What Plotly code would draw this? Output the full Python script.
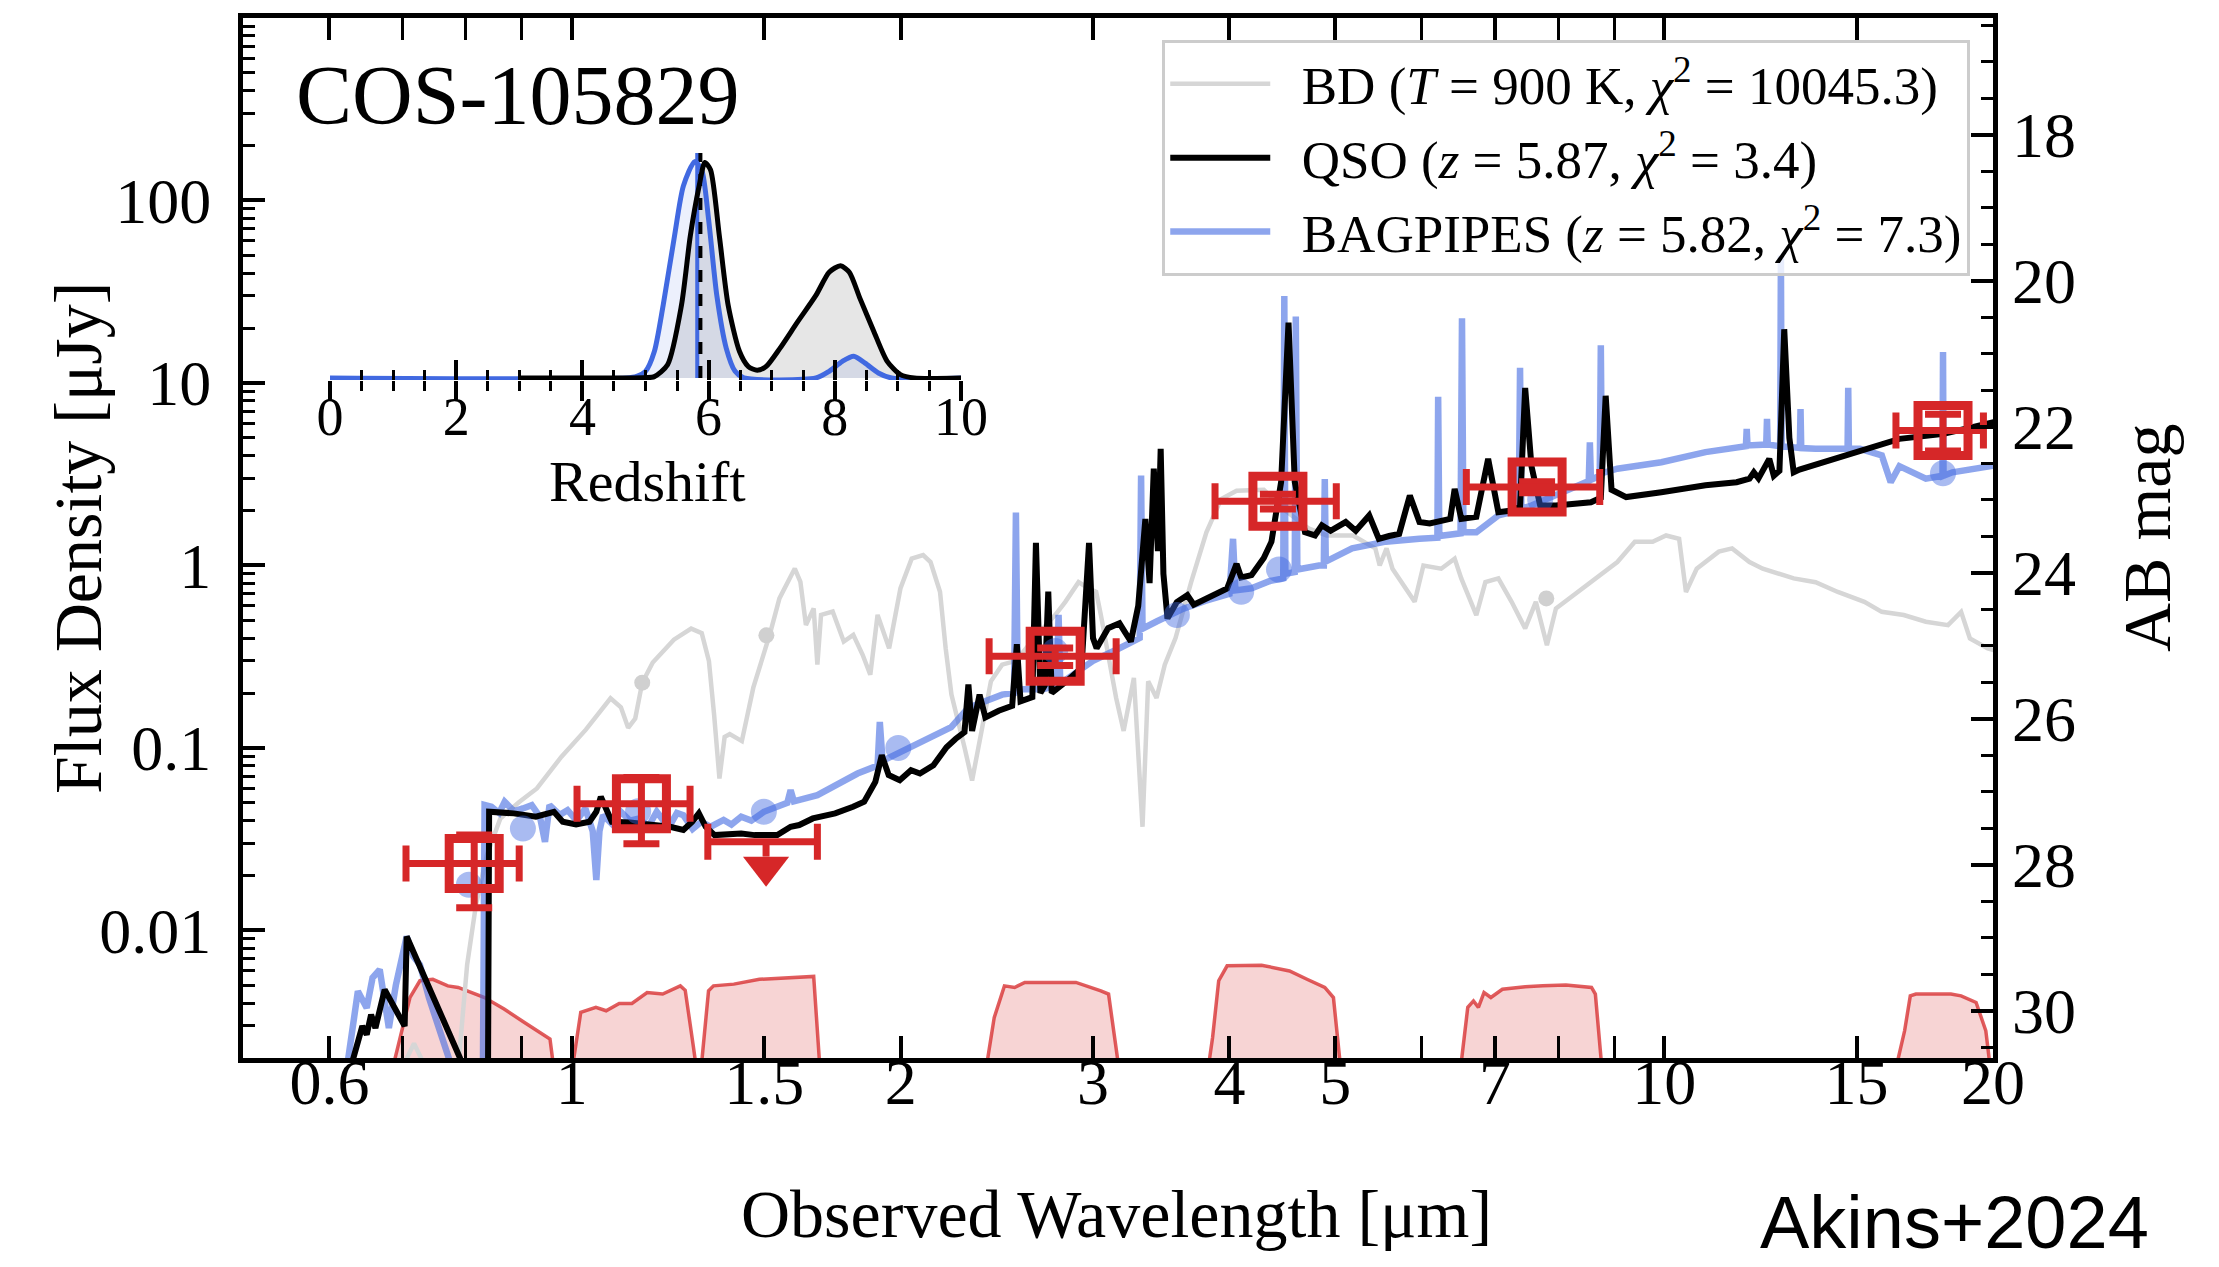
import math
import plotly.graph_objects as go

# ---------------- data ----------------
bd_wave = [0.690, 0.717, 0.745, 0.785, 0.802, 0.817, 0.836, 0.860, 0.895, 0.929, 0.978, 1.030, 1.085, 1.109,
           1.126, 1.143, 1.160, 1.186, 1.240, 1.286, 1.315, 1.335, 1.350, 1.365, 1.380, 1.395, 1.431, 1.466,
           1.519, 1.549, 1.600, 1.619, 1.638, 1.665, 1.678, 1.691, 1.733, 1.774, 1.810, 1.846, 1.876, 1.905,
           1.952, 1.999, 2.047, 2.097, 2.130, 2.173, 2.199, 2.226, 2.288, 2.325, 2.372, 2.419, 2.477, 2.550,
           2.650, 2.770, 2.830, 2.910, 2.970, 3.020, 3.050, 3.150, 3.200, 3.270, 3.330, 3.370, 3.430, 3.490,
           3.570, 3.690, 3.810, 3.930, 4.060, 4.300, 4.500, 4.730, 4.910, 5.190, 5.440, 5.490, 5.570, 5.640,
           5.910, 6.020, 6.250, 6.430, 6.520, 6.730, 6.860, 7.050, 7.250, 7.460, 7.630, 7.810, 7.960, 8.260,
           8.570, 9.060, 9.400, 9.760, 10.04, 10.32, 10.47, 10.71, 11.22, 11.54, 11.97, 12.31, 13.14, 13.76,
           14.42, 15.25, 15.82, 16.57, 17.36, 18.19, 18.70, 19.05, 19.78, 20.50]
bd_flux = [0.0015, 0.0024, 0.0015, 0.0015, 0.0065, 0.0138, 0.0259, 0.041, 0.0506, 0.060, 0.0893, 0.126, 0.187,
           0.167, 0.129, 0.145, 0.228, 0.294, 0.392, 0.451, 0.426, 0.300, 0.150, 0.068, 0.115, 0.119, 0.109,
           0.214, 0.426, 0.660, 0.962, 0.813, 0.472, 0.582, 0.286, 0.536, 0.559, 0.383, 0.417, 0.324, 0.252,
           0.536, 0.352, 0.748, 1.09, 1.14, 1.045, 0.718, 0.352, 0.196, 0.101, 0.0663, 0.124, 0.232, 0.286,
           0.300, 0.400, 0.535, 0.632, 0.810, 0.750, 0.718, 0.536, 0.188, 0.124, 0.242, 0.037, 0.232, 0.188,
           0.286, 0.400, 0.813, 1.52, 2.31, 2.57, 2.60, 2.00, 1.59, 1.46, 1.46, 1.24, 1.00, 1.24, 0.96, 0.632,
           1.00, 0.96, 1.09, 0.85, 0.535, 0.81, 0.85, 0.632, 0.452, 0.632, 0.366, 0.581, 0.687, 0.81, 1.045,
           1.35, 1.35, 1.46, 1.40, 0.716, 0.96, 1.19, 1.24, 1.045, 0.96, 0.85, 0.81, 0.716, 0.632, 0.557,
           0.535, 0.492, 0.471, 0.557, 0.398, 0.351, 0.330]
bd_phot_wave = [1.16, 1.507, 7.8]
bd_phot_flux = [0.228, 0.414, 0.66]

qso_wave = [0.620, 0.631, 0.643, 0.649, 0.655, 0.661, 0.674, 0.703, 0.706, 0.790, 0.800, 0.838, 0.840, 0.885,
            0.927, 0.963, 0.981, 1.009, 1.038, 1.053, 1.063, 1.073, 1.088, 1.130, 1.196, 1.230, 1.265, 1.289,
            1.307, 1.326, 1.351, 1.429, 1.470, 1.542, 1.586, 1.615, 1.662, 1.742, 1.809, 1.852, 1.896, 1.922,
            1.950, 1.996, 2.044, 2.083, 2.143, 2.203, 2.245, 2.288, 2.307, 2.325, 2.362, 2.391, 2.459, 2.530,
            2.555, 2.575, 2.640, 2.660, 2.685, 2.710, 2.730, 2.750, 2.837, 2.928, 2.975, 3.000, 3.023, 3.097,
            3.172, 3.249, 3.300, 3.350, 3.380, 3.410, 3.440, 3.460, 3.480, 3.510, 3.580, 3.660, 3.710, 3.980,
            4.060, 4.100, 4.190, 4.300, 4.370, 4.460, 4.530, 4.590, 4.690, 4.790, 4.860, 4.950, 5.110, 5.220,
            5.370, 5.480, 5.600, 5.720, 5.850, 5.970, 6.100, 6.250, 6.370, 6.430, 6.520, 6.730, 6.900, 7.050,
            7.250, 7.380, 7.460, 7.560, 7.700, 7.960, 8.570, 8.750, 8.840, 8.950, 9.060, 9.230, 9.940, 10.91,
            11.65, 11.97, 12.08, 12.20, 12.48, 12.60, 12.75, 12.88, 13.02, 13.14, 13.30, 16.42, 18.02, 20.50]
qso_flux = [0.0015, 0.0020, 0.00299, 0.00269, 0.00346, 0.00292, 0.00474, 0.00299, 0.00927, 0.0020, 0.0015,
            0.0015, 0.0447, 0.0438, 0.0420, 0.0447, 0.0394, 0.0381, 0.0394, 0.0447, 0.0540, 0.0466, 0.0394,
            0.0391, 0.0378, 0.0370, 0.0355, 0.0394, 0.0438, 0.0370, 0.0333, 0.0340, 0.0333, 0.0333, 0.0370,
            0.0378, 0.0411, 0.0438, 0.0476, 0.0507, 0.0652, 0.0912, 0.0710, 0.0666, 0.0755, 0.0724, 0.0804,
            0.101, 0.112, 0.122, 0.223, 0.124, 0.196, 0.147, 0.160, 0.170, 0.370, 0.180, 0.190, 1.33, 0.200,
            0.220, 0.720, 0.200, 0.232, 0.274, 1.33, 0.400, 0.352, 0.453, 0.482, 0.383, 0.600, 1.80, 0.800,
            3.39, 1.20, 4.36, 0.900, 0.513, 0.630, 0.687, 0.610, 0.748, 1.02, 0.860, 0.885, 1.10, 1.35, 2.87,
            21.4, 2.87, 1.52, 1.46, 1.66, 1.55, 1.73, 1.55, 1.88, 1.40, 1.45, 1.49, 2.42, 1.73, 1.70, 1.75,
            1.80, 2.63, 1.80, 1.85, 3.84, 1.96, 2.00, 2.10, 9.40, 3.50, 2.13, 2.13, 2.22, 2.35, 8.51, 2.60,
            2.52, 2.37, 2.52, 2.75, 2.86, 2.99, 3.24, 3.00, 3.84, 3.10, 3.30, 19.7, 5.0, 3.24, 3.35, 4.94,
            5.26, 6.30]

bp_wave = [0.620, 0.637, 0.649, 0.657, 0.667, 0.680, 0.690, 0.706, 0.716, 0.726, 0.740, 0.761, 0.776, 0.829,
           0.832, 0.844, 0.858, 0.868, 0.885, 0.902, 0.919, 0.935, 0.945, 0.954, 0.975, 0.991, 1.010, 1.029,
           1.045, 1.053, 1.060, 1.068, 1.090, 1.109, 1.130, 1.152, 1.175, 1.196, 1.213, 1.230, 1.248, 1.265,
           1.290, 1.314, 1.340, 1.377, 1.400, 1.429, 1.460, 1.499, 1.540, 1.575, 1.586, 1.597, 1.678, 1.742,
           1.826, 1.905, 1.914, 1.925, 2.025, 2.143, 2.225, 2.307, 2.400, 2.477, 2.540, 2.550, 2.560, 2.700,
           2.780, 2.790, 2.800, 2.900, 3.000, 3.172, 3.310, 3.320, 3.330, 3.430, 3.630, 3.800, 4.000, 4.030,
           4.050, 4.190, 4.350, 4.480, 4.490, 4.500, 4.590, 4.600, 4.615, 4.830, 4.880, 4.890, 4.900, 5.180,
           5.560, 5.970, 6.200, 6.210, 6.225, 6.510, 6.530, 6.550, 6.730, 7.050, 7.360, 7.380, 7.400, 7.560,
           8.260, 8.530, 8.550, 8.570, 8.730, 8.750, 8.770, 9.060, 9.940, 10.91, 11.88, 11.90, 11.92, 12.40,
           12.42, 12.44, 12.77, 12.79, 12.81, 13.31, 13.33, 13.35, 13.76, 14.72, 14.74, 14.76, 15.11, 15.82,
           16.12, 16.42, 17.36, 17.98, 18.00, 18.02, 18.36, 20.00, 20.50]
bp_flux = [0.0015, 0.00464, 0.00376, 0.0055, 0.0061, 0.00292, 0.0050, 0.00927, 0.0072, 0.00649, 0.00427,
           0.00258, 0.0018, 0.0015, 0.0487, 0.0476, 0.0440, 0.0507, 0.0450, 0.0466, 0.0486, 0.0420, 0.0306,
           0.0486, 0.0430, 0.0456, 0.0400, 0.0466, 0.0350, 0.0189, 0.0350, 0.0428, 0.0380, 0.0447, 0.0400,
           0.0411, 0.0370, 0.0447, 0.0400, 0.0378, 0.0440, 0.0428, 0.0360, 0.0394, 0.0370, 0.0403, 0.0380,
           0.0420, 0.0400, 0.0447, 0.0470, 0.0500, 0.0588, 0.0510, 0.0551, 0.0625, 0.0724, 0.0800, 0.139,
           0.0850, 0.099, 0.117, 0.130, 0.166, 0.180, 0.196, 0.200, 1.95, 0.210, 0.210, 0.220, 0.536, 0.225,
           0.260, 0.300, 0.352, 0.400, 3.11, 0.450, 0.493, 0.580, 0.640, 0.700, 1.40, 0.730, 0.750, 0.820,
           0.850, 30.0, 0.900, 0.920, 23.1, 0.950, 1.00, 1.00, 2.98, 1.05, 1.24, 1.35, 1.40, 1.42, 8.4, 1.45,
           1.50, 22.6, 1.52, 1.52, 1.88, 2.00, 12.1, 2.05, 2.13, 2.63, 2.90, 4.73, 2.95, 3.10, 16.1, 3.20,
           3.39, 3.68, 4.18, 4.50, 5.6, 4.55, 4.6, 6.35, 4.6, 4.5, 50.0, 4.5, 4.4, 7.2, 4.4, 4.36, 4.36, 9.4,
           4.36, 4.36, 4.01, 2.86, 3.50, 2.99, 3.1, 14.8, 3.1, 3.24, 3.53, 3.60]
bp_phot_wave = [0.805, 0.902, 1.15, 1.499, 1.99, 2.77, 3.58, 4.10, 4.44, 7.70, 18.0]
bp_phot_flux = [0.0178, 0.0362, 0.045, 0.0447, 0.100, 0.34, 0.535, 0.718, 0.95, 2.3, 3.2]

# observed photometry (µJy)
phot_wave = [0.814, 1.158, 2.77, 4.43, 7.65, 18.0]
phot_flux = [0.0233, 0.0494, 0.318, 2.25, 2.69, 5.49]
phot_flux_err = [0.010, 0.0195, 0.035, 0.21, 0.19, 1.25]
phot_wave_lo = [0.705, 1.011, 2.41, 3.88, 6.59, 16.3]
phot_wave_hi = [0.895, 1.283, 3.15, 5.01, 8.73, 19.6]
ul_wave = [1.506]
ul_flux = [0.0306]
ul_wave_lo = [1.332]
ul_wave_hi = [1.678]

# filter transmission curves (scaled)
f814w_wave = [0.681, 0.696, 0.711, 0.726, 0.746, 0.770, 0.787, 0.831, 0.867, 0.905, 0.935, 0.955, 0.966]
f814w_trans = [0.0015, 0.00259, 0.0043, 0.0053, 0.0054, 0.00497, 0.00487, 0.0043, 0.00371, 0.00313, 0.00276, 0.00254, 0.0015]
f115w_wave = [0.997, 1.019, 1.052, 1.075, 1.105, 1.135, 1.172, 1.211, 1.257, 1.270, 1.291, 1.305]
f115w_trans = [0.0015, 0.00356, 0.00379, 0.00363, 0.00398, 0.00398, 0.00457, 0.00448, 0.00497, 0.0047, 0.00239, 0.0015]
f150w_wave = [1.310, 1.334, 1.348, 1.407, 1.485, 1.567, 1.654, 1.665, 1.690]
f150w_trans = [0.0015, 0.00467, 0.00497, 0.00508, 0.0054, 0.00552, 0.00564, 0.00560, 0.0015]
f277w_wave = [2.385, 2.436, 2.489, 2.543, 2.598, 2.894, 3.05, 3.10, 3.18]
f277w_trans = [0.0015, 0.00333, 0.00497, 0.00487, 0.00519, 0.00519, 0.00467, 0.00448, 0.0015]
f444w_wave = [3.81, 3.86, 3.91, 3.98, 4.28, 4.54, 4.71, 4.89, 4.98, 5.07]
f444w_trans = [0.0015, 0.00259, 0.0053, 0.0064, 0.00645, 0.0060, 0.0054, 0.00487, 0.00429, 0.0015]
f770w_wave = [6.49, 6.61, 6.69, 6.76, 6.84, 6.94, 7.11, 7.46, 7.74, 8.13, 8.58, 8.65, 8.79]
f770w_trans = [0.0015, 0.00379, 0.00411, 0.00379, 0.00457, 0.00429, 0.00476, 0.00491, 0.00497, 0.00503, 0.00487, 0.00448, 0.0015]
f1800w_wave = [16.2, 16.6, 16.8, 17.0, 18.3, 18.7, 19.3, 19.7, 19.95]
f1800w_trans = [0.0015, 0.00282, 0.00438, 0.00448, 0.00448, 0.00438, 0.00403, 0.00282, 0.0015]

# redshift PDFs (inset)
pz_qso_z = [3.0, 4.8, 5.0, 5.14, 5.35, 5.57, 5.71, 5.85, 5.94, 6.03, 6.17, 6.31, 6.49, 6.63, 6.77, 6.91,
            7.13, 7.41, 7.70, 7.91, 8.09, 8.23, 8.40, 8.62, 8.83, 9.04, 9.26, 10.0]
pz_qso_p = [0, 0, 0.002, 0.006, 0.058, 0.319, 0.623, 0.842, 0.945, 0.913, 0.623, 0.319, 0.116, 0.050,
            0.034, 0.050, 0.130, 0.246, 0.362, 0.464, 0.492, 0.464, 0.348, 0.203, 0.073, 0.015, 0.0, 0.0]
pz_bp_z = [0, 4.7, 4.86, 5.0, 5.14, 5.28, 5.46, 5.60, 5.78, 5.89, 6.0, 6.13, 6.28, 6.42, 6.56, 7.70,
           7.91, 8.12, 8.30, 8.48, 8.69, 8.90, 10]
pz_bp_p = [0, 0, 0.007, 0.029, 0.116, 0.319, 0.623, 0.842, 0.949, 0.913, 0.695, 0.362, 0.130, 0.029, 0,
           0, 0.029, 0.073, 0.095, 0.065, 0.022, 0, 0]
z_qso_best = 5.87
z_bp_best = 5.82

x_tick_vals = [0.6, 1, 1.5, 2, 3, 4, 5, 7, 10, 15, 20]
x_tick_text = ["0.6", "1", "1.5", "2", "3", "4", "5", "7", "10", "15", "20"]
y_tick_vals = [0.01, 0.1, 1, 10, 100]
y_tick_text = ["0.01", "0.1", "1", "10", "100"]
mag_tick_vals = [18, 20, 22, 24, 26, 28, 30]

# ---------------- styling ----------------
SERIF = "Liberation Serif"
RED = "#d62728"
FLUX_MIN, FLUX_MAX = 0.002, 1000.0
X_MIN, X_MAX = 0.5, 20.0
GAP = "\u00a0\u00a0"

fig = go.Figure()

# filter curves
for w, t in [(f814w_wave, f814w_trans), (f115w_wave, f115w_trans), (f150w_wave, f150w_trans),
             (f277w_wave, f277w_trans), (f444w_wave, f444w_trans), (f770w_wave, f770w_trans),
             (f1800w_wave, f1800w_trans)]:
    fig.add_trace(go.Scatter(x=w, y=t, mode="lines", fill="toself", fillcolor="rgba(214,39,40,0.2)",
                             line=dict(color="rgba(214,39,40,0.75)", width=3.5),
                             showlegend=False, hoverinfo="skip"))

# brown dwarf
fig.add_trace(go.Scatter(x=bd_wave, y=bd_flux, mode="lines", line=dict(color="#d6d6d6", width=4.5),
                         name=GAP + "BD (<i>T</i> = 900 K, <i>χ</i><sup>2</sup> = 10045.3)",
                         legendrank=1, legendgroup="bd"))
fig.add_trace(go.Scatter(x=bd_phot_wave, y=bd_phot_flux, mode="markers",
                         marker=dict(color="#d0d0d0", size=16), showlegend=False, hoverinfo="skip"))

# BAGPIPES
fig.add_trace(go.Scatter(x=bp_wave, y=bp_flux, mode="lines", line=dict(color="rgba(65,105,225,0.6)", width=6.5),
                         name=GAP + "BAGPIPES (<i>z</i> = 5.82, <i>χ</i><sup>2</sup> = 7.3)",
                         legendrank=3, legendgroup="bp"))

# QSO
fig.add_trace(go.Scatter(x=qso_wave, y=qso_flux, mode="lines", line=dict(color="black", width=6),
                         name=GAP + "QSO (<i>z</i> = 5.87, <i>χ</i><sup>2</sup> = 3.4)",
                         legendrank=2, legendgroup="qso"))

# BAGPIPES model photometry
fig.add_trace(go.Scatter(x=bp_phot_wave, y=bp_phot_flux, mode="markers",
                         marker=dict(color="rgba(65,105,225,0.45)", size=26), showlegend=False, hoverinfo="skip"))

# observed photometry
fig.add_trace(go.Scatter(
    x=phot_wave, y=phot_flux, mode="markers",
    marker=dict(symbol="square-open", size=50, color=RED, line=dict(width=9, color=RED)),
    error_x=dict(type="data", symmetric=False,
                 array=[h - w for h, w in zip(phot_wave_hi, phot_wave)],
                 arrayminus=[w - l for w, l in zip(phot_wave, phot_wave_lo)],
                 color=RED, thickness=7, width=18),
    error_y=dict(type="data", array=phot_flux_err, color=RED, thickness=7, width=18),
    showlegend=False, hoverinfo="skip"))

# upper limit
fig.add_trace(go.Scatter(
    x=ul_wave, y=ul_flux, mode="markers", marker=dict(size=1, color="rgba(0,0,0,0)"),
    error_x=dict(type="data", symmetric=False,
                 array=[h - w for h, w in zip(ul_wave_hi, ul_wave)],
                 arrayminus=[w - l for w, l in zip(ul_wave, ul_wave_lo)],
                 color=RED, thickness=7, width=18),
    error_y=dict(type="data", symmetric=False, array=[0], arrayminus=[f * 0.17 for f in ul_flux],
                 color=RED, thickness=7, width=0),
    showlegend=False, hoverinfo="skip"))
fig.add_trace(go.Scatter(x=ul_wave, y=[f * 0.73 for f in ul_flux], mode="markers",
                         marker=dict(symbol="triangle-down", size=40, color=RED, line=dict(width=0)),
                         showlegend=False, hoverinfo="skip"))

# dummy for right axis
fig.add_trace(go.Scatter(x=[1], y=[25], yaxis="y2", mode="markers", marker=dict(opacity=0),
                         showlegend=False, hoverinfo="skip"))

# ---- inset: redshift PDFs ----
fig.add_trace(go.Scatter(x=pz_qso_z, y=pz_qso_p, xaxis="x3", yaxis="y3", mode="lines",
                         line=dict(color="rgba(0,0,0,0)", width=0, shape="spline", smoothing=0.7),
                         fill="tozeroy", fillcolor="rgba(200,200,200,0.45)", showlegend=False, hoverinfo="skip"))
fig.add_trace(go.Scatter(x=pz_bp_z, y=pz_bp_p, xaxis="x3", yaxis="y3", mode="lines",
                         line=dict(color="rgba(0,0,0,0)", width=0, shape="spline", smoothing=0.7),
                         fill="tozeroy", fillcolor="rgba(65,105,225,0.10)", showlegend=False, hoverinfo="skip"))
fig.add_trace(go.Scatter(x=[z_bp_best, z_bp_best], y=[0, 0.987], xaxis="x3", yaxis="y3", mode="lines",
                         line=dict(color="royalblue", width=4), showlegend=False, hoverinfo="skip"))
fig.add_trace(go.Scatter(x=[z_qso_best, z_qso_best], y=[0, 0.987], xaxis="x3", yaxis="y3", mode="lines",
                         line=dict(color="black", width=4, dash="dash"), showlegend=False, hoverinfo="skip"))
fig.add_trace(go.Scatter(x=pz_bp_z, y=pz_bp_p, xaxis="x3", yaxis="y3", mode="lines",
                         line=dict(color="royalblue", width=5, shape="spline", smoothing=0.7),
                         showlegend=False, hoverinfo="skip"))
fig.add_trace(go.Scatter(x=pz_qso_z, y=pz_qso_p, xaxis="x3", yaxis="y3", mode="lines",
                         line=dict(color="black", width=5, shape="spline", smoothing=0.7),
                         showlegend=False, hoverinfo="skip"))
fig.add_trace(go.Scatter(x=[0], y=[0], xaxis="x4", yaxis="y3", mode="markers", marker=dict(opacity=0),
                         showlegend=False, hoverinfo="skip"))

y_minor = [m * 10 ** k for k in range(-3, 3) for m in range(2, 10) if FLUX_MIN <= m * 10 ** k <= FLUX_MAX]

axis_common = dict(showgrid=False, zeroline=False, tickcolor="black", tickwidth=4, ticklen=22, ticks="inside",
                   tickfont=dict(family=SERIF, size=64, color="black"))

fig.update_layout(
    width=2219, height=1267,
    margin=dict(l=243, r=226, t=18, b=209),
    paper_bgcolor="white", plot_bgcolor="white",
    font=dict(family=SERIF, color="black"),
    xaxis=dict(type="log", range=[math.log10(X_MIN), math.log10(X_MAX)], tickmode="array",
               tickvals=x_tick_vals, ticktext=x_tick_text, showline=True, linewidth=5, linecolor="black",
               mirror="allticks", ticklabelstandoff=-36,
               minor=dict(tickmode="array", tickvals=[0.7, 0.8, 0.9, 6, 8, 9], ticks="inside", ticklen=12,
                          tickwidth=3, tickcolor="black", showgrid=False),
               **axis_common),
    yaxis=dict(type="log", range=[math.log10(FLUX_MIN), math.log10(FLUX_MAX)], tickmode="array",
               tickvals=y_tick_vals, ticktext=y_tick_text, showline=True, linewidth=5, linecolor="black",
               mirror=True, ticklabelstandoff=14,
               minor=dict(tickmode="array", tickvals=y_minor, ticks="inside", ticklen=12, tickwidth=3,
                          tickcolor="black", showgrid=False),
               **axis_common),
    yaxis2=dict(overlaying="y", side="right", anchor="x",
                range=[23.9 - 2.5 * math.log10(FLUX_MIN), 23.9 - 2.5 * math.log10(FLUX_MAX)],
                tickmode="array", tickvals=mag_tick_vals, showline=False, ticklabelstandoff=18,
                minor=dict(dtick=0.5, tick0=0, ticks="inside", ticklen=12, tickwidth=3, tickcolor="black",
                           showgrid=False),
                **axis_common),
    xaxis3=dict(domain=[0.0497, 0.4103], anchor="y3", range=[0, 10], tickmode="array",
                tickvals=[0, 2, 4, 6, 8, 10], ticks="inside", ticklen=20, tickwidth=4, tickcolor="black",
                showline=False, showgrid=False, zeroline=False,
                tickfont=dict(family=SERIF, size=54, color="black"),
                minor=dict(dtick=0.5, tick0=0, ticks="inside", ticklen=10, tickwidth=3, tickcolor="black",
                           showgrid=False)),
    xaxis4=dict(overlaying="x3", anchor="y3", range=[0, 10], tickmode="array",
                tickvals=[0, 2, 4, 6, 8, 10], ticks="outside", ticklen=20, tickwidth=4, tickcolor="black",
                showticklabels=False, showline=False, showgrid=False, zeroline=False,
                minor=dict(dtick=0.5, tick0=0, ticks="outside", ticklen=10, tickwidth=3, tickcolor="black",
                           showgrid=False)),
    yaxis3=dict(domain=[0.6519, 0.8731], anchor="x3", range=[-0.009, 1.0], visible=False),
    legend=dict(x=0.987, y=0.979, xanchor="right", yanchor="top", bgcolor="rgba(255,255,255,0.8)",
                bordercolor="#cccccc", borderwidth=3, font=dict(family=SERIF, size=53, color="black"),
                itemwidth=100, traceorder="grouped", tracegroupgap=2),
    annotations=[
        dict(text="COS-105829", x=0.029, y=0.925, xref="paper", yref="paper", xanchor="left",
             yanchor="middle", showarrow=False, font=dict(family=SERIF, size=84, color="black")),
        dict(text="Flux Density [μJy]", x=-0.0943, y=0.5, xref="paper", yref="paper", textangle=-90,
             xanchor="center", yanchor="middle", showarrow=False, font=dict(family=SERIF, size=68, color="black")),
        dict(text="Observed Wavelength [μm]", x=0.4994, y=-0.15, xref="paper", yref="paper",
             xanchor="center", yanchor="middle", showarrow=False, font=dict(family=SERIF, size=68, color="black")),
        dict(text="AB mag", x=1.088, y=0.5, xref="paper", yref="paper", textangle=-90,
             xanchor="center", yanchor="middle", showarrow=False, font=dict(family=SERIF, size=68, color="black")),
        dict(text="Redshift", x=0.2309, y=0.5548, xref="paper", yref="paper", xanchor="center",
             yanchor="middle", showarrow=False, font=dict(family=SERIF, size=58, color="black")),
        dict(text="Akins+2024", x=1.0903, y=-0.158, xref="paper", yref="paper", xanchor="right",
             yanchor="middle", showarrow=False, font=dict(family="Liberation Sans", size=74, color="black")),
    ],
)

fig.write_html("out.html")
